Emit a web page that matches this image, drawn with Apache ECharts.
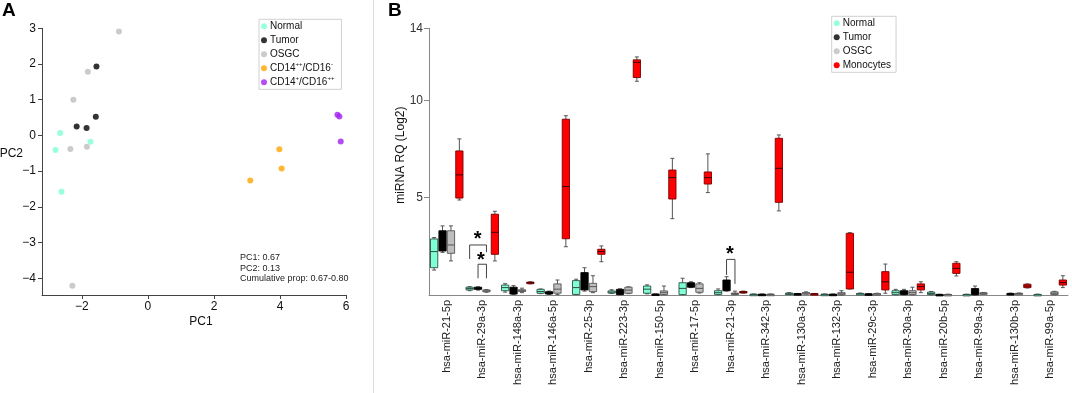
<!DOCTYPE html>
<html>
<head>
<meta charset="utf-8">
<script src="https://cdn.jsdelivr.net/npm/echarts@6.0.0/dist/echarts.min.js"></script>
<style>
  html, body { margin: 0; padding: 0; background: #fff; }
  #chart { width: 1072px; height: 393px; }
</style>
</head>
<body>
<div id="chart"></div>
<script>
// ---- panel A : PCA scores [PC1, PC2] ----
var pcaNormal = [[-2.66, 0.07], [-2.80, -0.41], [-1.74, -0.18], [-2.62, -1.58]]
var pcaTumor = [[-1.56, 1.93], [-2.16, 0.25], [-1.86, 0.21], [-1.58, 0.52]]
var pcaOsgc = [[-0.88, 2.91], [-1.82, 1.78], [-2.26, 1.00], [-2.35, -0.38], [-1.85, -0.32], [-2.29, -4.21]]
var pcaClassical = [[3.98, -0.39], [4.05, -0.93], [3.10, -1.26]]
var pcaNonClassical = [[5.74, 0.58], [5.80, 0.53], [5.84, -0.17]]
var pc1Ticks = [-2, 0, 2, 4, 6]
var pc2Ticks = [-4, -3, -2, -1, 0, 1, 2, 3]
var pcaNote = ['PC1: 0.67', 'PC2: 0.13', 'Cumulative prop: 0.67-0.80']

// ---- panel B : miRNA RQ boxes [min, q1, median, q3, max] ----
var mirnas = ['hsa-miR-21-5p', 'hsa-miR-29a-3p', 'hsa-miR-148a-3p', 'hsa-miR-146a-5p', 'hsa-miR-25-3p',
  'hsa-miR-223-3p', 'hsa-miR-150-5p', 'hsa-miR-17-5p', 'hsa-miR-21-3p', 'hsa-miR-342-3p', 'hsa-miR-130a-3p',
  'hsa-miR-132-3p', 'hsa-miR-29c-3p', 'hsa-miR-30a-3p', 'hsa-miR-20b-5p', 'hsa-miR-99a-3p', 'hsa-miR-130b-3p',
  'hsa-miR-99a-5p']
var boxNormal = [
  [1.28, 1.40, 2.23, 2.88, 2.95], [0.22, 0.26, 0.33, 0.40, 0.43], [0.15, 0.22, 0.38, 0.51, 0.58],
  [0.07, 0.09, 0.18, 0.29, 0.31], [0.02, 0.03, 0.38, 0.74, 0.81], [0.08, 0.10, 0.15, 0.21, 0.27],
  [0.06, 0.09, 0.30, 0.46, 0.52], [0.01, 0.02, 0.34, 0.63, 0.86], [0.02, 0.03, 0.12, 0.22, 0.31],
  [0.01, 0.02, 0.03, 0.04, 0.05], [0.02, 0.03, 0.06, 0.10, 0.12], [0.01, 0.02, 0.03, 0.04, 0.05],
  [0.03, 0.04, 0.06, 0.08, 0.10], [0.01, 0.02, 0.12, 0.22, 0.29], [0.01, 0.02, 0.08, 0.15, 0.18],
  [0.00, 0.01, 0.02, 0.03, 0.04], null, [0.00, 0.01, 0.02, 0.03, 0.04]]
var boxTumor = [
  [2.19, 2.26, 2.75, 3.30, 3.55], [0.25, 0.29, 0.35, 0.40, 0.42], [0.03, 0.05, 0.25, 0.40, 0.48],
  [0.03, 0.05, 0.10, 0.17, 0.20], [0.20, 0.26, 0.70, 1.15, 1.40], [0.01, 0.02, 0.15, 0.29, 0.32],
  [0.01, 0.02, 0.03, 0.05, 0.06], [0.38, 0.40, 0.52, 0.63, 0.68], [0.20, 0.22, 0.50, 0.77, 0.94],
  [0.01, 0.02, 0.03, 0.04, 0.05], [0.02, 0.03, 0.05, 0.07, 0.08], [0.01, 0.02, 0.03, 0.04, 0.05],
  [0.01, 0.02, 0.04, 0.06, 0.07], [0.01, 0.02, 0.12, 0.22, 0.29], [0.00, 0.01, 0.02, 0.03, 0.04],
  [0.00, 0.01, 0.15, 0.33, 0.46], [0.00, 0.01, 0.04, 0.08, 0.10], null]
var boxOsgc = [
  [1.75, 2.14, 2.57, 3.30, 3.55], [0.14, 0.17, 0.21, 0.26, 0.28], [0.12, 0.18, 0.22, 0.27, 0.35],
  [0.02, 0.09, 0.30, 0.57, 0.77], [0.12, 0.17, 0.43, 0.60, 0.99], [0.07, 0.09, 0.25, 0.40, 0.42],
  [0.01, 0.02, 0.12, 0.21, 0.46], [0.10, 0.14, 0.34, 0.57, 0.63], [0.02, 0.03, 0.07, 0.10, 0.20],
  [0.01, 0.02, 0.03, 0.04, 0.05], [0.05, 0.07, 0.10, 0.12, 0.16], [0.00, 0.01, 0.06, 0.12, 0.22],
  [0.02, 0.03, 0.05, 0.07, 0.09], [0.01, 0.02, 0.12, 0.22, 0.40], [0.00, 0.01, 0.02, 0.03, 0.04],
  [0.05, 0.07, 0.09, 0.11, 0.13], [0.03, 0.05, 0.07, 0.09, 0.10], [0.01, 0.02, 0.09, 0.16, 0.19]]
var boxMonocytes = [
  [4.88, 4.98, 6.17, 7.40, 8.02], [1.75, 2.09, 3.22, 4.15, 4.30], [0.57, 0.60, 0.63, 0.66, 0.68],
  [2.48, 2.89, 5.57, 9.03, 9.21], [1.71, 2.09, 2.23, 2.35, 2.52], [10.98, 11.17, 11.95, 12.08, 12.23],
  [3.92, 4.93, 6.03, 6.42, 7.02], [5.26, 5.70, 6.03, 6.32, 7.25], [0.10, 0.12, 0.15, 0.18, 0.20],
  [4.32, 4.76, 6.51, 8.05, 8.22], [0.02, 0.03, 0.05, 0.07, 0.08], [0.31, 0.31, 1.17, 3.17, 3.20],
  [0.09, 0.26, 0.68, 1.20, 1.59], [0.12, 0.26, 0.43, 0.57, 0.68], [0.98, 1.11, 1.37, 1.63, 1.71],
  null, [0.36, 0.38, 0.46, 0.55, 0.57], [0.38, 0.51, 0.64, 0.77, 0.99]]
var rqTicks = [5, 10, 13.7]
var rqTickLabels = ['5', '10', '14']
// significance brackets: [miRNA index, from slot, to slot, top, left end, right end]
var sigBrackets = [[1, 0, 2, 2.57, 1.85, 2.2], [1, 1, 2, 1.58, 0.86, 0.86], [8, 1, 2, 1.83, 1.03, 0.57]]
// stars: [miRNA index, slot, value]
var sigStars = [[1, 0.95, 3.1], [1, 1.35, 2.05], [8, 1.4, 2.35]]

var FONT = '"Liberation Sans", Arial, sans-serif'
var SLOT_STEP = 0.237
var BOX_FRAC = 0.205

function minus (v) {
  return v < 0 ? '\u2212' + (-v) : '' + v
}

function toRows (list) {
  var rows = []
  list.forEach(function (b, i) {
    if (b) rows.push([i].concat(b))
  })
  return rows
}

function boxRender (slot, fill, stroke, medianColor) {
  return function (params, api) {
    var cat = api.value(0)
    var band = api.size([1, 0])[0]
    var cx = api.coord([cat, 0])[0] + (slot - 1.5) * SLOT_STEP * band
    var w = band * BOX_FRAC
    var yMin = api.coord([cat, api.value(1)])[1]
    var yQ1 = api.coord([cat, api.value(2)])[1]
    var yMed = api.coord([cat, api.value(3)])[1]
    var yQ3 = api.coord([cat, api.value(4)])[1]
    var yMax = api.coord([cat, api.value(5)])[1]
    var cap = 2
    var wStyle = { stroke: '#555', lineWidth: 1 }
    return {
      type: 'group',
      children: [
        { type: 'line', shape: { x1: cx, y1: yMax, x2: cx, y2: yMin }, style: wStyle },
        { type: 'line', shape: { x1: cx - cap, y1: yMax, x2: cx + cap, y2: yMax }, style: wStyle },
        { type: 'line', shape: { x1: cx - cap, y1: yMin, x2: cx + cap, y2: yMin }, style: wStyle },
        { type: 'rect', shape: { x: cx - w / 2, y: yQ3, width: w, height: Math.max(yQ1 - yQ3, 1.5) },
          style: { fill: fill, stroke: stroke, lineWidth: 0.9 } },
        { type: 'line', shape: { x1: cx - w / 2, y1: yMed, x2: cx + w / 2, y2: yMed },
          style: { stroke: medianColor, lineWidth: 1 } },
      ],
    }
  }
}

function slotX (api, cat, slot) {
  var band = api.size([1, 0])[0]
  return api.coord([cat, 0])[0] + (slot - 1.5) * SLOT_STEP * band
}

var chart = echarts.init(document.getElementById('chart'))

var boxGroups = [
  { name: 'Normal', data: boxNormal, fill: '#7fffd4', stroke: '#2e4f45', median: '#2e4f45' },
  { name: 'Tumor', data: boxTumor, fill: '#000000', stroke: '#000000', median: '#000000' },
  { name: 'OSGC', data: boxOsgc, fill: '#bebebe', stroke: '#555555', median: '#555555' },
  { name: 'Monocytes', data: boxMonocytes, fill: '#ff0000', stroke: '#7a0000', median: '#3a0000' },
]

var boxSeries = boxGroups.map(function (g, idx) {
  return {
    name: g.name,
    type: 'custom',
    xAxisIndex: 1,
    yAxisIndex: 1,
    itemStyle: { color: g.fill },
    encode: { x: 0, y: [1, 2, 3, 4, 5] },
    renderItem: boxRender(idx, g.fill, g.stroke, g.median),
    data: toRows(g.data),
    silent: true,
  }
})

var scatterBase = { type: 'scatter', xAxisIndex: 0, yAxisIndex: 0, symbolSize: 6, silent: true }

var option = {
  animation: false,
  backgroundColor: '#fff',
  textStyle: { fontFamily: FONT },
  grid: [
    { left: 42, top: 28.3, width: 304, height: 266.7, outerBoundsMode: 'none', containLabel: false },
    { left: 429, top: 28.3, width: 639, height: 266.7, outerBoundsMode: 'none', containLabel: false },
  ],
  legend: [
    {
      orient: 'vertical', left: 259, top: 19.3, padding: [0, 7, 0, 2], itemGap: 0,
      itemWidth: 6, itemHeight: 6, icon: 'circle',
      borderColor: '#d0d0d0', borderWidth: 1,
      data: ['Normal', 'Tumor', 'OSGC', 'CD14++/CD16-', 'CD14+/CD16++'],
      formatter: function (name) {
        if (name === 'CD14++/CD16-') return 'CD14{sup|++}/CD16{sup|-}'
        if (name === 'CD14+/CD16++') return 'CD14{sup|+}/CD16{sup|++}'
        return name
      },
      textStyle: {
        fontFamily: FONT, fontSize: 10, color: '#111', lineHeight: 14, padding: [0, 0, 0, -2],
        rich: { sup: { fontFamily: FONT, fontSize: 6, color: '#111', verticalAlign: 'top', lineHeight: 10 } },
      },
    },
    {
      orient: 'vertical', left: 831.7, top: 16.3, padding: [0, 5, 0, 2], itemGap: 0,
      itemWidth: 6, itemHeight: 6, icon: 'circle',
      borderColor: '#d0d0d0', borderWidth: 1,
      data: ['Normal', 'Tumor', 'OSGC', 'Monocytes'],
      textStyle: { fontFamily: FONT, fontSize: 10, color: '#111', lineHeight: 14, padding: [0, 0, 0, -2] },
    },
  ],
  xAxis: [
    {
      type: 'value', gridIndex: 0, min: -3.21, max: 6,
      name: 'PC1', nameLocation: 'middle', nameGap: 21, nameMoveOverlap: false,
      nameTextStyle: { fontFamily: FONT, fontSize: 12, color: '#111', padding: [0, 0, 0, 14] },
      axisLine: { show: true, onZero: false, lineStyle: { color: '#444', width: 1 } },
      axisTick: { show: true, length: 4, customValues: pc1Ticks, lineStyle: { color: '#444' } },
      axisLabel: { customValues: pc1Ticks, margin: 6, fontSize: 12, color: '#111', fontFamily: FONT, formatter: minus },
      splitLine: { show: false },
    },
    {
      type: 'category', gridIndex: 1, data: mirnas, boundaryGap: true,
      axisLine: { show: true, lineStyle: { color: '#888', width: 1 } },
      axisTick: { show: false },
      axisLabel: { interval: 0, rotate: 90, margin: 5, fontSize: 11, color: '#222', fontFamily: FONT },
      splitLine: { show: false },
    },
  ],
  yAxis: [
    {
      type: 'value', gridIndex: 0, min: -4.47, max: 3,
      name: 'PC2', nameLocation: 'middle', nameGap: 19, nameRotate: 0, nameMoveOverlap: false,
      nameTextStyle: { fontFamily: FONT, fontSize: 12, color: '#111', verticalAlign: 'bottom', padding: [0, 0, 2, 0] },
      axisLine: { show: true, onZero: false, lineStyle: { color: '#444', width: 1 } },
      axisTick: { show: true, length: 4, customValues: pc2Ticks, lineStyle: { color: '#444' } },
      axisLabel: { customValues: pc2Ticks, margin: 6, fontSize: 12, color: '#111', fontFamily: FONT, formatter: minus },
      splitLine: { show: false },
    },
    {
      type: 'value', gridIndex: 1, min: 0, max: 13.7,
      name: 'miRNA RQ (Log2)', nameLocation: 'middle', nameGap: 22, nameMoveOverlap: false,
      nameTextStyle: { fontFamily: FONT, fontSize: 12, color: '#111', padding: [0, 0, 0, 13] },
      axisLine: { show: true, lineStyle: { color: '#888', width: 1 } },
      axisTick: { show: true, length: 5, customValues: rqTicks, lineStyle: { color: '#888' } },
      axisLabel: {
        customValues: rqTicks, margin: 6, fontSize: 12, color: '#333', fontFamily: FONT,
        formatter: function (v) {
          var i = rqTicks.indexOf(v)
          return i >= 0 ? rqTickLabels[i] : ''
        },
      },
      splitLine: { show: false },
    },
  ],
  graphic: [
    { type: 'line', shape: { x1: 373.5, y1: 0, x2: 373.5, y2: 393 }, style: { stroke: '#dddddd', lineWidth: 1 } },
    { type: 'text', left: 2, top: 1, style: { text: 'A', font: 'bold 19px ' + FONT, fill: '#000' } },
    { type: 'text', left: 388, top: 1, style: { text: 'B', font: 'bold 19px ' + FONT, fill: '#000' } },
    {
      type: 'text', left: 240, top: 252,
      style: { text: pcaNote.join('\n'), font: '9px ' + FONT, fill: '#222', lineHeight: 10.7 },
    },
  ],
  series: [
    Object.assign({ name: 'Normal', data: pcaNormal, itemStyle: { color: '#7fffd4' } }, scatterBase),
    Object.assign({ name: 'Tumor', data: pcaTumor, itemStyle: { color: '#000000' } }, scatterBase),
    Object.assign({ name: 'OSGC', data: pcaOsgc, itemStyle: { color: '#bebebe' } }, scatterBase),
    Object.assign({ name: 'CD14++/CD16-', data: pcaClassical, itemStyle: { color: '#ffa500' } }, scatterBase),
    Object.assign({ name: 'CD14+/CD16++', data: pcaNonClassical, itemStyle: { color: '#a020f0' } }, scatterBase),
  ].concat(boxSeries).concat([
    {
      name: 'brackets', type: 'custom', xAxisIndex: 1, yAxisIndex: 1, silent: true,
      data: sigBrackets,
      encode: { x: 0, y: [3, 4, 5] },
      renderItem: function (params, api) {
        var cat = api.value(0)
        var x1 = slotX(api, cat, api.value(1))
        var x2 = slotX(api, cat, api.value(2))
        var yT = api.coord([cat, api.value(3)])[1]
        var yL = api.coord([cat, api.value(4)])[1]
        var yR = api.coord([cat, api.value(5)])[1]
        return {
          type: 'polyline',
          shape: { points: [[x1, yL], [x1, yT], [x2, yT], [x2, yR]] },
          style: { stroke: '#444', lineWidth: 1, fill: null },
        }
      },
    },
    {
      name: 'stars', type: 'custom', xAxisIndex: 1, yAxisIndex: 1, silent: true,
      data: sigStars,
      encode: { x: 0, y: 2 },
      renderItem: function (params, api) {
        var cat = api.value(0)
        var x = slotX(api, cat, api.value(1))
        var y = api.coord([cat, api.value(2)])[1]
        return {
          type: 'text',
          x: x, y: y + 5,
          style: { text: '*', font: 'bold 20px ' + FONT, fill: '#000', align: 'center', verticalAlign: 'middle' },
        }
      },
    },
  ]),
}

chart.setOption(option)
</script>
</body>
</html>
